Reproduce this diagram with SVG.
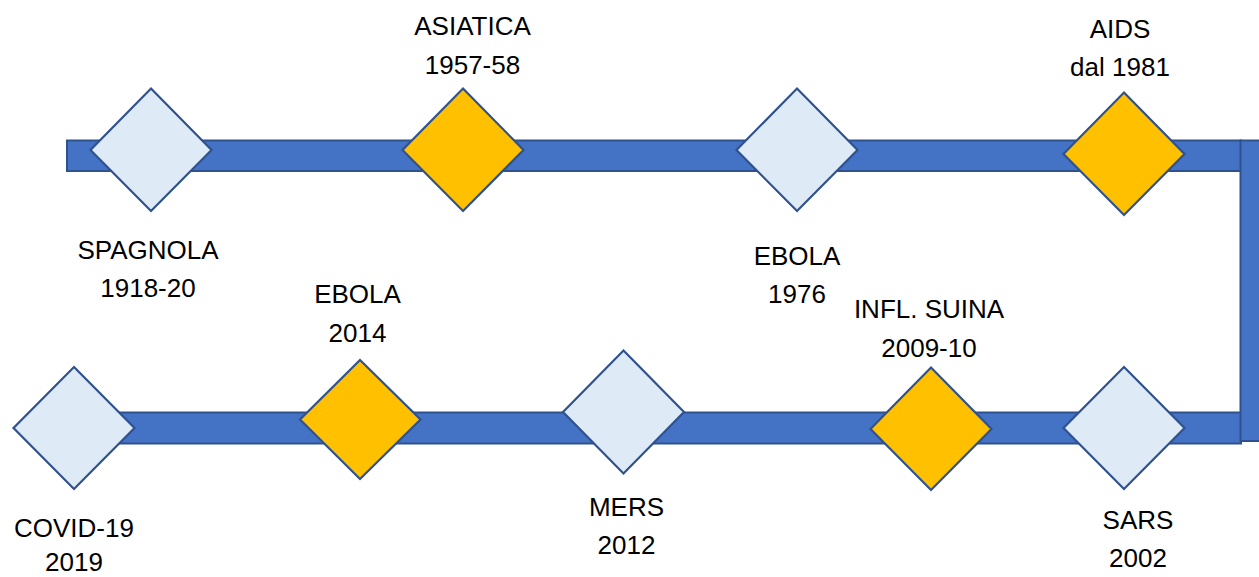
<svg xmlns="http://www.w3.org/2000/svg" width="1259" height="577" viewBox="0 0 1259 577">
<style>
.bar{fill:#4472C4;stroke:#2F528F;stroke-width:2}
.d{stroke:#2F528F;stroke-width:2.2;stroke-linejoin:miter}
.lt{fill:#DEEBF7}
.or{fill:#FFC000}
text{font-family:"Liberation Sans",Arial,sans-serif;font-size:26px;fill:#000;text-anchor:middle}
</style>
<rect width="1259" height="577" fill="#fff"/>
<g id="connectors">
<rect class="bar" x="67" y="140.5" width="1174" height="30.5"/>
<rect class="bar" x="74" y="412.5" width="1167" height="31"/>
<rect class="bar" x="1240.5" y="140.5" width="40" height="300.5"/>
</g>
<g id="spagnola">
<polygon class="d lt" points="151,88.5 211.5,150 151,211 90.5,150"/>
<text x="148" y="259">SPAGNOLA</text>
<text x="148" y="297">1918-20</text>
</g>
<g id="asiatica">
<polygon class="d or" points="463,88.5 523.5,150 463,211 402.5,150"/>
<text x="472.5" y="35">ASIATICA</text>
<text x="472.5" y="74">1957-58</text>
</g>
<g id="ebola1976">
<polygon class="d lt" points="797,88.5 857.5,150 797,211 736.5,150"/>
<text x="797" y="265">EBOLA</text>
<text x="797" y="303">1976</text>
</g>
<g id="aids">
<polygon class="d or" points="1124,92.5 1184.5,154 1124,215 1063.5,154"/>
<text x="1120" y="37.5">AIDS</text>
<text x="1120" y="76">dal 1981</text>
</g>
<g id="sars">
<polygon class="d lt" points="1124,367 1184.5,428 1124,489 1063.5,428"/>
<text x="1138" y="529">SARS</text>
<text x="1138" y="567">2002</text>
</g>
<g id="suina">
<polygon class="d or" points="931,367.5 991.5,429 931,490 870.5,429"/>
<text x="929" y="318">INFL. SUINA</text>
<text x="929" y="356.5">2009-10</text>
</g>
<g id="mers">
<polygon class="d lt" points="623.5,350.5 684,412 623.5,473.5 563,412"/>
<text x="626.5" y="515.5">MERS</text>
<text x="626.5" y="554">2012</text>
</g>
<g id="ebola2014">
<polygon class="d or" points="360,360 420.5,419.5 360,479 300,419.5"/>
<text x="357.5" y="303">EBOLA</text>
<text x="357.5" y="341.5">2014</text>
</g>
<g id="covid">
<polygon class="d lt" points="74,367 134.5,428 74,489 13.5,428"/>
<text x="74" y="537">COVID-19</text>
<text x="74" y="571">2019</text>
</g>
</svg>
